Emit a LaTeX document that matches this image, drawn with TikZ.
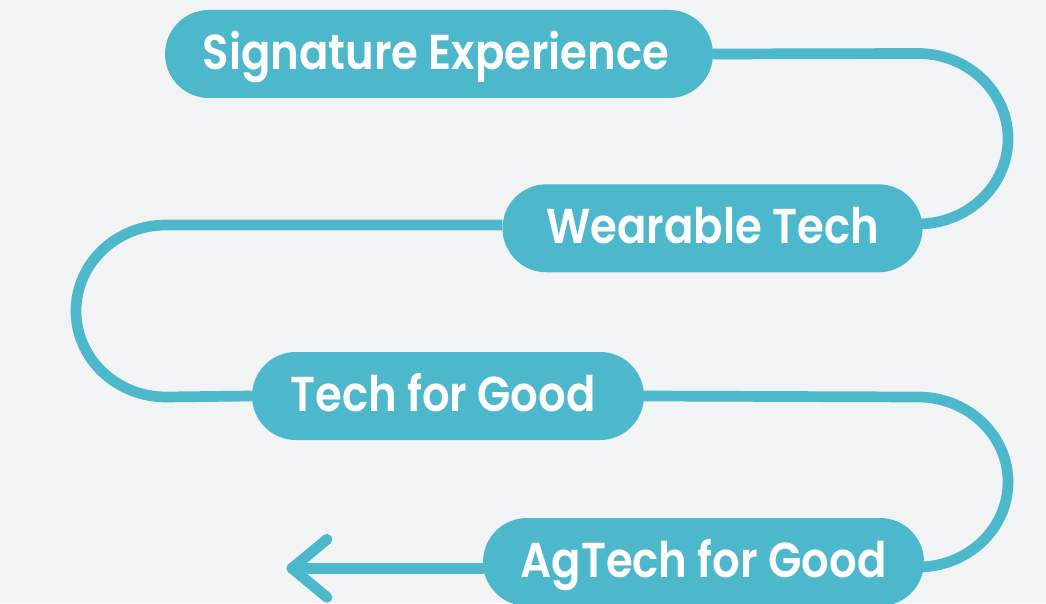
\documentclass[tikz,border=0pt]{standalone}
\usepackage{fontspec}
\setmainfont{Poppins}[BoldFont={Poppins SemiBold}, BoldFeatures={FakeStretch=0.885}]
\definecolor{teal}{HTML}{4DB8CB}
\definecolor{bgc}{HTML}{F2F3F5}
\pgfdeclarelayer{back}
\pgfdeclarelayer{bg}
\pgfsetlayers{back,bg,main}
\tikzset{
  pill/.style={draw=none, fill=teal, rectangle, rounded corners=44pt,
    minimum height=88pt, inner sep=0pt, text=white, text height=34pt, text depth=3pt,
    font=\fontsize{49}{59}\selectfont\bfseries},
  conn/.style={draw=teal, line width=10.7pt, line cap=round, line join=round}
}
\begin{document}
\begin{tikzpicture}[x=1pt,y=1pt]
\begin{pgfonlayer}{back}
\fill[bgc] (0,0) rectangle (1046,603);
\end{pgfonlayer}
\useasboundingbox (0,0) rectangle (1046,603);
\node[pill, minimum width=548pt] (p1) at (439,549) {\hspace*{-6pt}Signature Experience};
\node[pill, minimum width=420pt] (p2) at (712.5,374.7) {Wearable Tech};
\node[pill, minimum width=392pt] (p3) at (448,207) {\hspace*{-10pt}Tech for Good};
\node[pill, minimum width=441pt] (p4) at (703.5,41) {AgTech for Good};
\coordinate (tip) at (292,34.7);
\begin{pgfonlayer}{bg}
\draw[conn,line cap=butt] (p1.east) -- (918,549.5) arc[start angle=90,end angle=-90,x radius=90,y radius=85.25] -- ([yshift=4.3pt]p2.east);
\draw[conn,line cap=butt] ([yshift=3.3pt]p2.west) -- (166,378) arc[start angle=90,end angle=270,x radius=90,y radius=86] -- (p3.west);
\draw[conn,line cap=butt] (p3.east) -- (918,206) arc[start angle=90,end angle=-90,x radius=90,y radius=85] -- ([yshift=-5pt]p4.east);
\draw[conn] ([yshift=-6.3pt]p4.west) -- (tip);
\draw[conn] (tip) ++(35,29) -- (tip) -- ++(35,-29);
\end{pgfonlayer}
\end{tikzpicture}
\end{document}
